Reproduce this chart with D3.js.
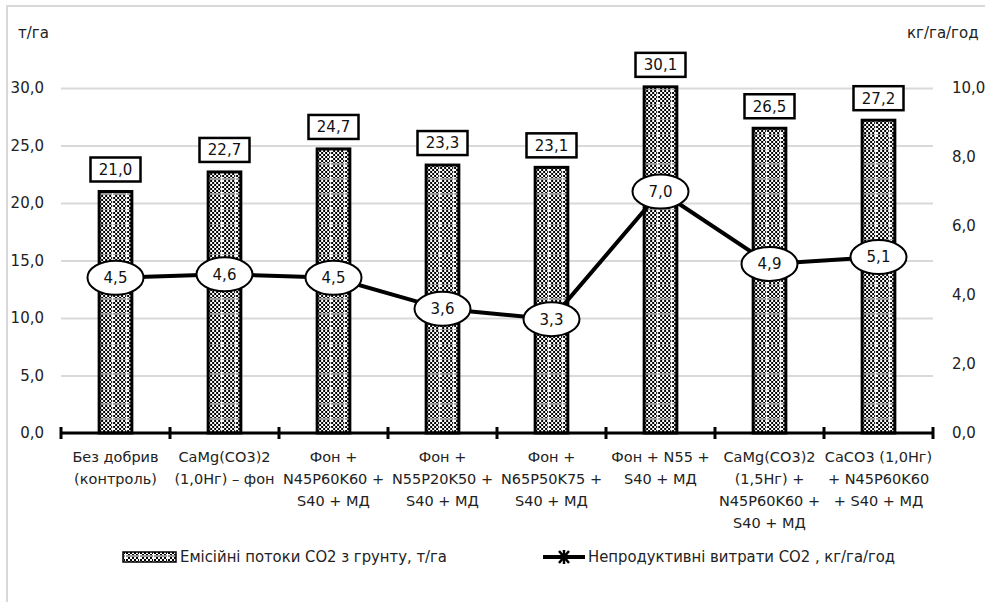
<!DOCTYPE html>
<html>
<head>
<meta charset="utf-8">
<script src="https://cdn.jsdelivr.net/npm/d3@7/dist/d3.min.js"></script>
<style>
  html, body { margin: 0; padding: 0; background: #fff; }
  svg { display: block; }
  .num { font-family: "DejaVu Sans", Verdana, sans-serif; }
  .leg { font-family: "Liberation Sans Narrow", "DejaVu Sans Condensed", sans-serif; }
</style>
</head>
<body>
<svg id="chart" width="985" height="602"></svg>
<script>
// Treatment variants (x categories, line-broken as printed under the axis)
const categories = [
  ["Без добрив", "(контроль)"],
  ["CaMg(CO3)2", "(1,0Нг) – фон"],
  ["Фон +", "N45P60K60 +", "S40 + МД"],
  ["Фон +", "N55P20K50 +", "S40 + МД"],
  ["Фон +", "N65P50K75 +", "S40 + МД"],
  ["Фон + N55 +", "S40 + МД"],
  ["CaMg(CO3)2", "(1,5Нг) +", "N45P60K60 +", "S40 + МД"],
  ["CaCO3 (1,0Нг)", "+ N45P60K60", "+ S40 + МД"]
];
// Soil CO2 emission flows, t/ha (bars, left axis)
const emission = [21.0, 22.7, 24.7, 23.3, 23.1, 30.1, 26.5, 27.2];
// Unproductive CO2 losses, kg/ha/h (line, right axis)
const losses = [4.5, 4.6, 4.5, 3.6, 3.3, 7.0, 4.9, 5.1];
// Axis ticks
const leftTicks = [0, 5, 10, 15, 20, 25, 30];
const rightTicks = [0, 2, 4, 6, 8, 10];
const leftUnit = "т/га";
const rightUnit = "кг/га/год";
const legendBar = "Емісійні потоки СО2 з грунту, т/га";
const legendLine = "Непродуктивні витрати СО2 , кг/га/год";

const svg = d3.select("#chart");
const plot = { left: 61, right: 933, top: 88, bottom: 433 };

const locale = d3.formatLocale({ decimal: ",", thousands: " ", grouping: [3], currency: ["", ""] });
const fmt = locale.format(".1f");

const x = d3.scaleBand().domain(d3.range(categories.length)).range([plot.left, plot.right]);
const yL = d3.scaleLinear().domain([0, 30]).range([plot.bottom, plot.top]);
const yR = d3.scaleLinear().domain([0, 10]).range([plot.bottom, plot.top]);
const cx = i => x(i) + x.bandwidth() / 2;
const barW = x.bandwidth() * 0.3;

// Outer chart frame
svg.append("rect").attr("x", 7).attr("y", 6).attr("width", 1000).attr("height", 1000)
  .attr("fill", "none").attr("stroke", "#d9d9d9").attr("stroke-width", 2);

// Hatched fill: fine checkerboard with a light grid
const defs = svg.append("defs");
const pat = defs.append("pattern").attr("id", "dots")
  .attr("patternUnits", "userSpaceOnUse").attr("width", 14).attr("height", 15);
pat.append("rect").attr("width", 14).attr("height", 15).attr("fill", "#fff");
for (let r = 0; r < 8; r++) {
  for (let c = 0; c < 7; c++) {
    if ((r + c) % 2 === 0) pat.append("rect").attr("x", c * 2).attr("y", r * 2).attr("width", 2).attr("height", 2).attr("fill", "#000");
  }
}
pat.append("rect").attr("x", 0).attr("y", 0).attr("width", 14).attr("height", 2).attr("fill", "#9a9a9a");
pat.append("rect").attr("x", 13).attr("y", 0).attr("width", 1.5).attr("height", 15).attr("fill", "#fff");

// Left axis with gridlines
const gL = svg.append("g").attr("transform", `translate(${plot.left},0)`)
  .call(d3.axisLeft(yL).tickValues(leftTicks).tickFormat(fmt)
    .tickSizeInner(-(plot.right - plot.left)).tickSizeOuter(0).tickPadding(17));
gL.select(".domain").remove();
gL.selectAll(".tick line").attr("stroke", "#d9d9d9").attr("stroke-width", 2);
gL.selectAll(".tick text").attr("class", "num").attr("font-size", 15).attr("fill", "#222");

// Right axis
const gR = svg.append("g").attr("transform", `translate(${plot.right},0)`)
  .call(d3.axisRight(yR).tickValues(rightTicks).tickFormat(fmt).tickSize(0).tickPadding(19));
gR.select(".domain").remove();
gR.selectAll(".tick text").attr("class", "num").attr("font-size", 15).attr("fill", "#222");

// Unit captions
svg.append("text").attr("class", "num").attr("x", 18).attr("y", 38).attr("font-size", 15).attr("fill", "#222").text(leftUnit);
svg.append("text").attr("class", "num").attr("x", 907).attr("y", 38).attr("font-size", 15).attr("fill", "#222").text(rightUnit);

// Bars
const bars = svg.append("g").selectAll("g").data(emission).join("g")
  .attr("transform", (d, i) => `translate(${cx(i) - barW / 2},${plot.bottom})`);
bars.append("rect")
  .attr("x", 0).attr("y", d => yL(d) - plot.bottom)
  .attr("width", barW).attr("height", d => plot.bottom - yL(d))
  .attr("fill", "url(#dots)").attr("stroke", "#000").attr("stroke-width", 3);

// X axis line and category separators
const xAxis = svg.append("g");
xAxis.append("line").attr("x1", plot.left).attr("x2", plot.right)
  .attr("y1", plot.bottom).attr("y2", plot.bottom).attr("stroke", "#000").attr("stroke-width", 3);
xAxis.selectAll("line.sep").data(d3.range(categories.length + 1)).join("line").attr("class", "sep")
  .attr("x1", i => plot.left + i * x.step()).attr("x2", i => plot.left + i * x.step())
  .attr("y1", plot.bottom - 6).attr("y2", plot.bottom + 6)
  .attr("stroke", "#000").attr("stroke-width", 3);

// Category labels
const cat = svg.append("g").selectAll("text").data(categories).join("text")
  .attr("class", "num").attr("font-size", 14.5).attr("fill", "#222").attr("text-anchor", "middle");
cat.selectAll("tspan").data((d, i) => d.map(s => ({ s, i }))).join("tspan")
  .attr("x", d => cx(d.i)).attr("y", (d, k) => 462 + k * 22).text(d => d.s);

// Bar value labels in boxes
const bl = svg.append("g").selectAll("g").data(emission).join("g")
  .attr("transform", (d, i) => `translate(${cx(i)},${yL(d) - 22})`);
bl.append("rect").attr("x", -25).attr("y", -12).attr("width", 50).attr("height", 24)
  .attr("fill", "#fff").attr("stroke", "#000").attr("stroke-width", 2.5);
bl.append("text").attr("class", "num").attr("font-size", 15).attr("text-anchor", "middle")
  .attr("dy", "0.36em").attr("fill", "#111").text(d => fmt(d));

// Loss line
const line = d3.line().x((d, i) => cx(i)).y(d => yR(d));
svg.append("path").datum(losses).attr("d", line)
  .attr("fill", "none").attr("stroke", "#000").attr("stroke-width", 4);

const pts = svg.append("g").selectAll("g").data(losses).join("g")
  .attr("transform", (d, i) => `translate(${cx(i)},${yR(d)})`);
pts.append("ellipse").attr("rx", 28).attr("ry", 17)
  .attr("fill", "#fff").attr("stroke", "#000").attr("stroke-width", 2);
pts.append("text").attr("class", "num").attr("font-size", 15).attr("text-anchor", "middle")
  .attr("dy", "0.36em").attr("fill", "#111").text(d => fmt(d));

// Legend
const leg = svg.append("g");
leg.append("rect").attr("x", 123).attr("y", 552).attr("width", 53).attr("height", 10)
  .attr("fill", "url(#dots)").attr("stroke", "#000").attr("stroke-width", 1.5);
leg.append("text").attr("class", "leg").attr("x", 180).attr("y", 562).attr("font-size", 16.5)
  .attr("fill", "#222").text(legendBar);
leg.append("line").attr("x1", 543).attr("x2", 585).attr("y1", 557).attr("y2", 557)
  .attr("stroke", "#000").attr("stroke-width", 4);
leg.append("path").attr("d", "M559,551L569,563M569,551L559,563M564,550L564,564M557,557L571,557")
  .attr("stroke", "#000").attr("stroke-width", 2.5);
leg.append("text").attr("class", "leg").attr("x", 588).attr("y", 562).attr("font-size", 16.5)
  .attr("fill", "#222").text(legendLine);
</script>
</body>
</html>
